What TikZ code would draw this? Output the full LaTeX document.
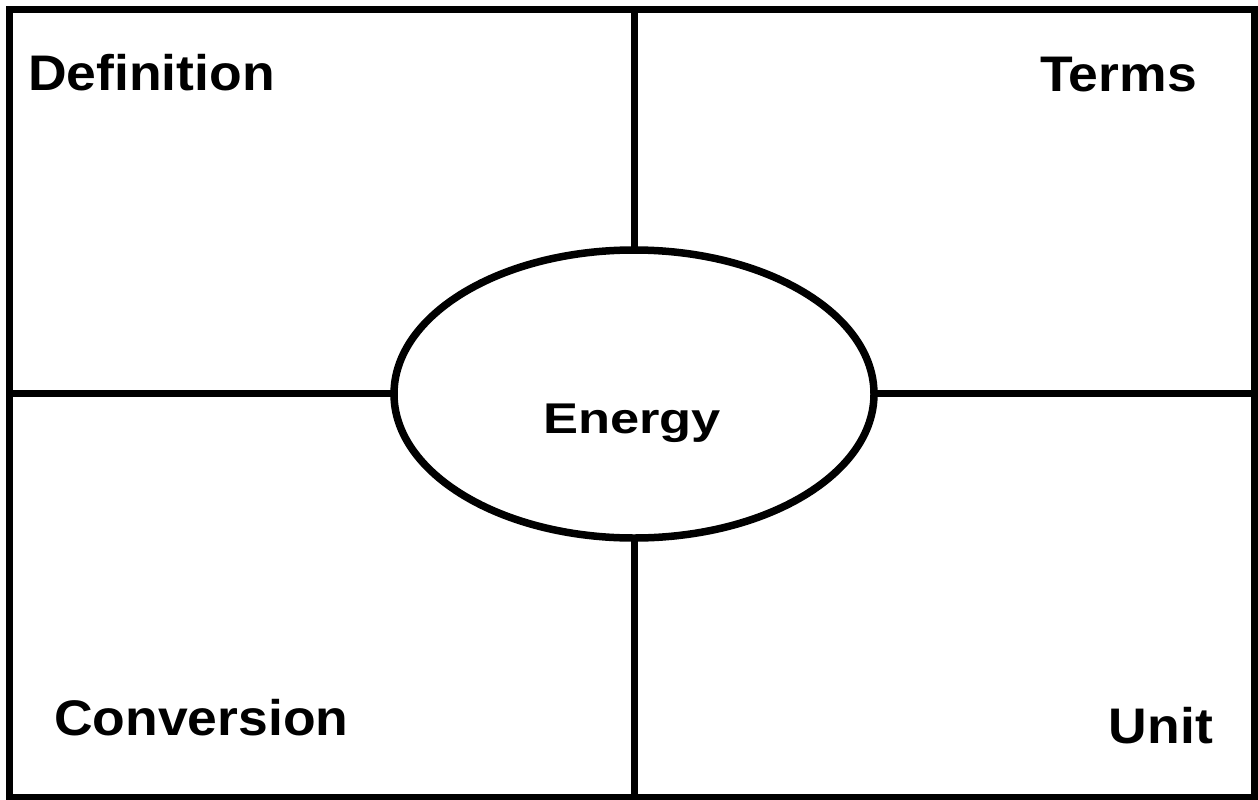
\documentclass[tikz,border=0pt]{standalone}
\usepackage{fontspec}
\setmainfont{Liberation Sans}[FakeStretch=1.07]
\newfontfamily\widefont{Liberation Sans}[FakeStretch=1.22]
\usetikzlibrary{shapes.geometric}
\begin{document}
\begin{tikzpicture}[x=1pt,y=-1pt,
  frame/.style={line width=7pt},
  lbl/.style={font=\bfseries\fontsize{50}{50}\selectfont, inner sep=0pt},
  centrelbl/.style={font=\widefont\bfseries\fontsize{43}{43}\selectfont, inner sep=0pt},
  centre/.style={ellipse, draw, line width=7.5pt, fill=white, minimum width=480pt, minimum height=288pt, inner sep=0pt}]
\useasboundingbox (0,0) rectangle (1258,800);
\coordinate (tl) at (9,10);
\coordinate (br) at (1254,797);
\coordinate (top) at (634,10);
\coordinate (bot) at (634,797);
\coordinate (lft) at (9,393);
\coordinate (rgt) at (1254,393);
\draw[frame] (tl) rectangle (br);
\draw[frame] (top) -- (bot);
\draw[frame] (lft) -- (rgt);
\node[centre] (energy) at (634,394) {};
\node[centrelbl, anchor=base] (energytext) at (632,433) {Energy};
\node[lbl, anchor=base west] (def) at (28,90) {Definition};
\node[lbl, anchor=base east] (terms) at (1197,92) {Terms};
\node[lbl, anchor=base west] (conv) at (54,735) {Conversion};
\node[lbl, anchor=base east] (unit) at (1213,743) {Unit};
\end{tikzpicture}
\end{document}
